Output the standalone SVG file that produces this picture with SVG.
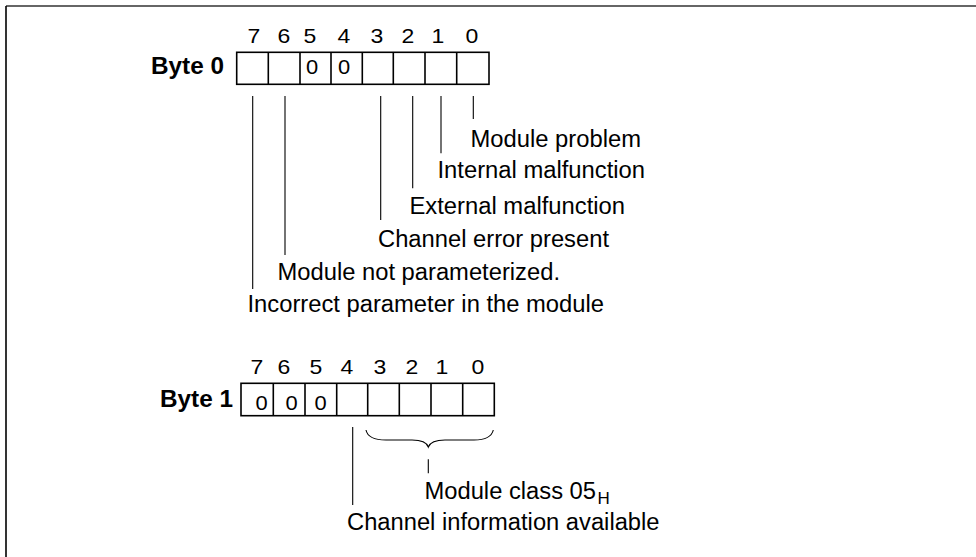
<svg xmlns="http://www.w3.org/2000/svg" width="976" height="557" viewBox="0 0 976 557">
<style>
.t{font-family:"Liberation Sans",Arial,sans-serif;font-size:23px;fill:#000}
.b{font-family:"Liberation Sans",Arial,sans-serif;font-size:23px;font-weight:bold;fill:#000}
.d{font-family:"Liberation Sans",Arial,sans-serif;font-size:21px;fill:#000;text-anchor:middle}
.z{font-family:"Liberation Sans",Arial,sans-serif;font-size:20.5px;fill:#000;text-anchor:middle}
.cell{fill:none;stroke:#000;stroke-width:1.6}
.ln{fill:none;stroke:#000;stroke-width:1.1}
</style>
<rect width="976" height="557" fill="#fff"/>
<g id="frame">
<line x1="6" y1="6" x2="976" y2="6" stroke="#333" stroke-width="1.6"/>
<line x1="6" y1="6" x2="6" y2="557" stroke="#000" stroke-width="1.6"/>
</g>
<g id="byte0">
<text class="b" x="151" y="73.5" textLength="73" lengthAdjust="spacingAndGlyphs">Byte 0</text>
<text class="d" x="254" y="43.3" textLength="12.8" lengthAdjust="spacingAndGlyphs">7</text>
<text class="d" x="284" y="43.3" textLength="12.8" lengthAdjust="spacingAndGlyphs">6</text>
<text class="d" x="310" y="43.3" textLength="12.8" lengthAdjust="spacingAndGlyphs">5</text>
<text class="d" x="344" y="43.3" textLength="12.8" lengthAdjust="spacingAndGlyphs">4</text>
<text class="d" x="377" y="43.3" textLength="12.8" lengthAdjust="spacingAndGlyphs">3</text>
<text class="d" x="408" y="43.3" textLength="12.8" lengthAdjust="spacingAndGlyphs">2</text>
<text class="d" x="438" y="43.3" textLength="12.8" lengthAdjust="spacingAndGlyphs">1</text>
<text class="d" x="472" y="43.3" textLength="12.8" lengthAdjust="spacingAndGlyphs">0</text>
<rect class="cell" x="236.7" y="52.3" width="252.3" height="32"/>
<path class="cell" d="M268.3,52.3V84.3M300,52.3V84.3M331,52.3V84.3M362.3,52.3V84.3M393.3,52.3V84.3M425,52.3V84.3M456.7,52.3V84.3"/>
<text class="z" x="312" y="74" textLength="12.2" lengthAdjust="spacingAndGlyphs">0</text>
<text class="z" x="344" y="74" textLength="12.2" lengthAdjust="spacingAndGlyphs">0</text>
</g>
<g id="byte1">
<text class="b" x="160" y="406.5" textLength="73" lengthAdjust="spacingAndGlyphs">Byte 1</text>
<text class="d" x="257" y="373.5" textLength="12.8" lengthAdjust="spacingAndGlyphs">7</text>
<text class="d" x="284" y="373.5" textLength="12.8" lengthAdjust="spacingAndGlyphs">6</text>
<text class="d" x="316" y="373.5" textLength="12.8" lengthAdjust="spacingAndGlyphs">5</text>
<text class="d" x="347" y="373.5" textLength="12.8" lengthAdjust="spacingAndGlyphs">4</text>
<text class="d" x="380" y="373.5" textLength="12.8" lengthAdjust="spacingAndGlyphs">3</text>
<text class="d" x="412" y="373.5" textLength="12.8" lengthAdjust="spacingAndGlyphs">2</text>
<text class="d" x="442" y="373.5" textLength="12.8" lengthAdjust="spacingAndGlyphs">1</text>
<text class="d" x="478" y="373.5" textLength="12.8" lengthAdjust="spacingAndGlyphs">0</text>
<rect class="cell" x="241" y="383.3" width="253.3" height="32.4"/>
<path class="cell" d="M273.3,383.3V415.7M305,383.3V415.7M336.7,383.3V415.7M367.7,383.3V415.7M399.3,383.3V415.7M431,383.3V415.7M462.7,383.3V415.7"/>
<text class="z" x="261.7" y="410" textLength="12.2" lengthAdjust="spacingAndGlyphs">0</text>
<text class="z" x="291.7" y="410" textLength="12.2" lengthAdjust="spacingAndGlyphs">0</text>
<text class="z" x="320.7" y="410" textLength="12.2" lengthAdjust="spacingAndGlyphs">0</text>
</g>
<g id="connectors">
<line class="ln" x1="252.7" y1="96" x2="252.7" y2="289"/>
<line class="ln" x1="285" y1="96" x2="285" y2="255"/>
<line class="ln" x1="380.7" y1="96" x2="380.7" y2="220"/>
<line class="ln" x1="412.7" y1="96" x2="412.7" y2="188.3"/>
<line class="ln" x1="441" y1="96" x2="441" y2="153.3"/>
<line class="ln" x1="473.3" y1="96" x2="473.3" y2="119"/>
<line class="ln" x1="352.7" y1="427" x2="352.7" y2="505"/>
<path class="ln" d="M366,430 Q368,440 386,440 L412,440 Q426,440 428.3,447 Q431,440 445,440 L474,440 Q491,440 493.3,430"/>
<line class="ln" x1="428.3" y1="459.3" x2="428.3" y2="473.3"/>
</g>
<g id="labels">
<text class="t" x="470.5" y="147.3" textLength="170.5" lengthAdjust="spacingAndGlyphs">Module problem</text>
<text class="t" x="437.5" y="178.3" textLength="207.5" lengthAdjust="spacingAndGlyphs">Internal malfunction</text>
<text class="t" x="409.5" y="213.8" textLength="215.5" lengthAdjust="spacingAndGlyphs">External malfunction</text>
<text class="t" x="378" y="247.3" textLength="231" lengthAdjust="spacingAndGlyphs">Channel error present</text>
<text class="t" x="277.5" y="279.8" textLength="282.5" lengthAdjust="spacingAndGlyphs">Module not parameterized.</text>
<text class="t" x="247.5" y="312.3" textLength="356.5" lengthAdjust="spacingAndGlyphs">Incorrect parameter in the module</text>
<text class="t" x="424.5" y="499.3"><tspan textLength="171.5" lengthAdjust="spacingAndGlyphs">Module class 05</tspan><tspan x="597.5" y="503.8" font-size="17">H</tspan></text>
<text class="t" x="347" y="530.3" textLength="312.5" lengthAdjust="spacingAndGlyphs">Channel information available</text>
</g>
</svg>
